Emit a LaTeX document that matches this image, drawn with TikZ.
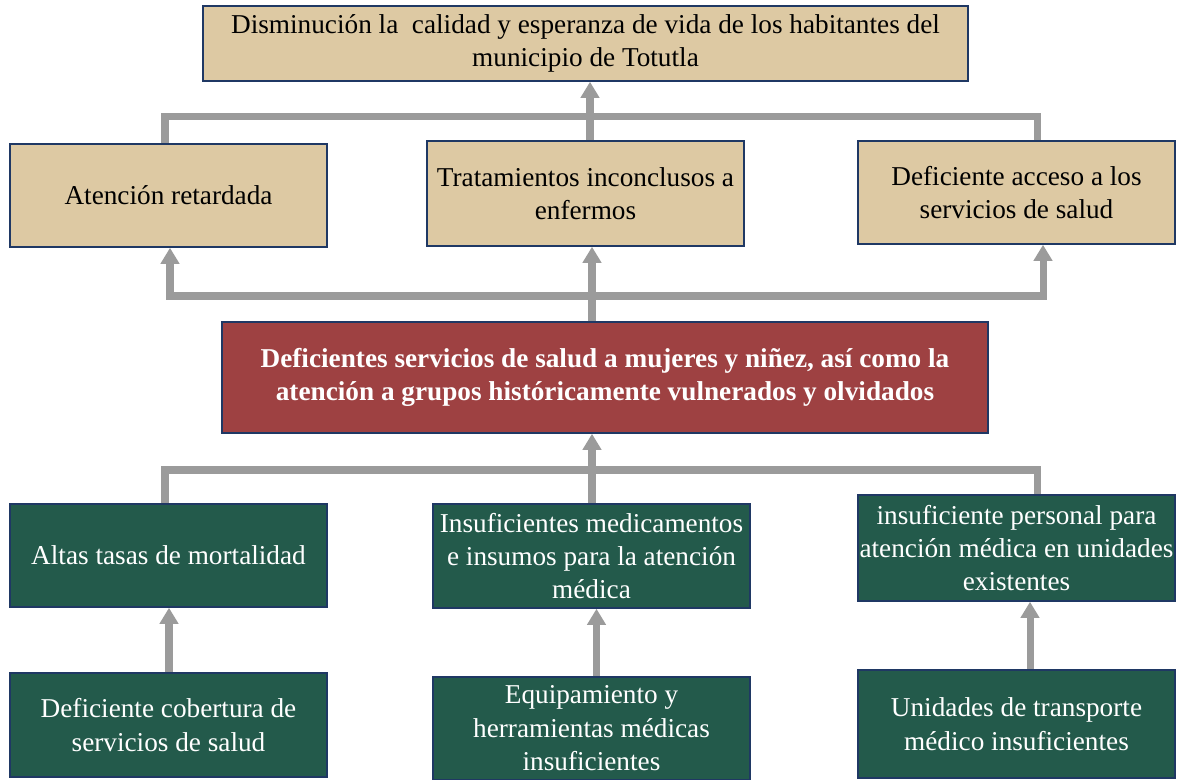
\documentclass[tikz,border=0pt]{standalone}
\usepackage{fontspec}
\setmainfont{Liberation Serif}
\usetikzlibrary{arrows.meta}

\definecolor{tanfill}{RGB}{221,201,163}
\definecolor{redfill}{RGB}{158,65,66}
\definecolor{greenfill}{RGB}{35,90,75}
\definecolor{edgeblue}{RGB}{31,56,100}
\definecolor{linkgray}{RGB}{155,155,155}

\begin{document}
\begin{tikzpicture}[
    font=\fontsize{15.5}{19}\selectfont,
    box/.style={draw=edgeblue, line width=0.9pt, align=center, inner sep=0pt,
                minimum width=6.34cm},
    effect/.style={box, fill=tanfill, text=black},
    core/.style={box, fill=redfill, text=white, font=\bfseries\fontsize{15.5}{19}\selectfont},
    cause/.style={box, fill=greenfill, text=white},
    tree/.style={draw=linkgray, line width=4pt},
    arr/.style={tree, -{Triangle[width=3.6mm, length=3.2mm]}},
    twoarr/.style={tree, {Triangle[width=3.6mm, length=3.2mm]}-{Triangle[width=3.6mm, length=3.2mm]}}
]
\useasboundingbox (0,0) rectangle (23.62,15.6);

% Fin
\node[effect, minimum width=15.3cm, minimum height=1.5cm] (goal) at (11.71,14.73)
    {Disminución la\ \ calidad y esperanza de vida de los habitantes del\\municipio de Totutla};

% Efectos
\node[effect, minimum height=2.06cm] (atencion) at (3.37,11.69) {Atención retardada};
\node[effect, minimum height=2.10cm] (tratam) at (11.71,11.73) {Tratamientos inconclusos a\\enfermos};
\node[effect, minimum height=2.06cm] (acceso) at (20.33,11.75) {Deficiente acceso a los\\servicios de salud};

% Problema central
\node[core, minimum width=15.32cm, minimum height=2.22cm] (problema) at (12.10,8.05)
    {Deficientes servicios de salud a mujeres y niñez, así como la\\atención a grupos históricamente vulnerados y olvidados};

% Causas
\node[cause, minimum height=2.06cm] (altas) at (3.37,4.49) {Altas tasas de mortalidad};
\node[cause, minimum height=2.08cm] (medic) at (11.83,4.48) {Insuficientes medicamentos\\e insumos para la atención\\médica};
\node[cause, minimum height=2.12cm] (personal) at (20.33,4.64) {insuficiente personal para\\atención médica en unidades\\existentes};

% Causas de fondo
\node[cause, minimum height=2.08cm] (cobertura) at (3.37,1.10) {Deficiente cobertura de\\servicios de salud};
\node[cause, minimum height=2.06cm] (equipo) at (11.83,1.03) {Equipamiento y\\herramientas médicas\\insuficientes};
\node[cause, minimum height=2.16cm] (transporte) at (20.33,1.12) {Unidades de transporte\\médico insuficientes};

% Barras
\coordinate (eL) at (3.30,13.26);  \coordinate (eR) at (20.74,13.26);
\coordinate (mL) at (3.40,9.68);   \coordinate (mR) at (20.86,9.68);
\coordinate (cL) at (3.30,6.20);   \coordinate (cR) at (20.74,6.20);
\coordinate (topx) at (11.80,0);   \coordinate (midx) at (11.84,0);

% Efectos -> fin
\draw[tree] (eL |- atencion.north) -- (eL) -- (eR) -- (eR |- acceso.north);
\draw[arr] (tratam.north -| topx) -- (goal.south -| topx);

% Problema -> efectos
\draw[twoarr] (mL |- atencion.south) -- (mL) -- (mR) -- (mR |- acceso.south);
\draw[arr] (problema.north -| midx) -- (tratam.south -| midx);

% Causas -> problema
\draw[tree] (cL |- altas.north) -- (cL) -- (cR) -- (cR |- personal.north);
\draw[arr] (medic.north -| midx) -- (problema.south -| midx);

% Causas de fondo -> causas
\draw[arr] ([xshift=0.1mm]cobertura.north) -- ([xshift=0.1mm]altas.south);
\draw[arr] ([xshift=1mm]equipo.north) -- ([xshift=1mm]medic.south);
\draw[arr] ([xshift=2.7mm]transporte.north) -- ([xshift=2.7mm]personal.south);

\end{tikzpicture}
\end{document}
